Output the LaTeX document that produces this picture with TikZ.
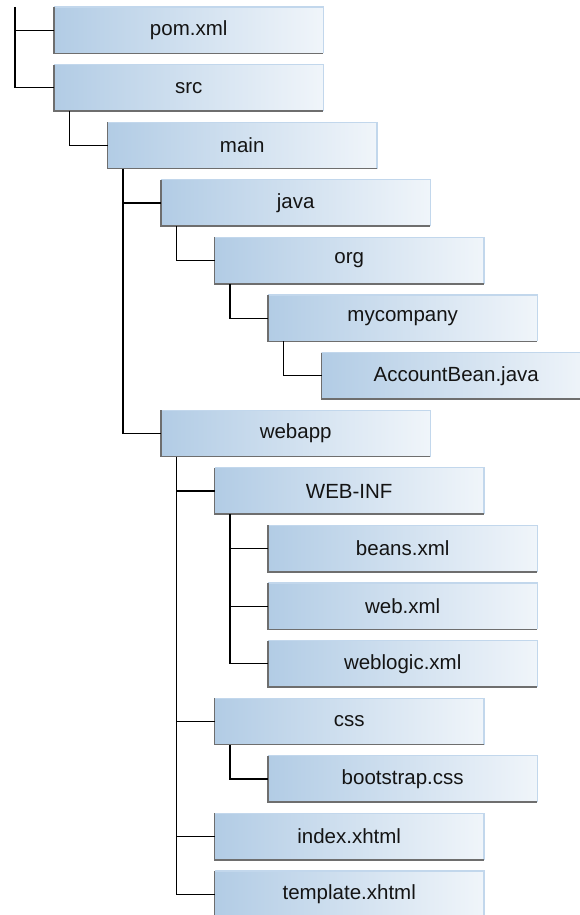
\documentclass[tikz,border=0pt]{standalone}
\usepackage{fontspec}
\setmainfont{Liberation Sans}
\definecolor{boxblue}{HTML}{B2CCE5}
\definecolor{boxwhite}{HTML}{F0F5FA}
\definecolor{edgelight}{HTML}{C2D7EC}
\definecolor{edgedark}{HTML}{6E6E6E}
\definecolor{txt}{HTML}{141414}
\tikzset{
  fbox/.style={rectangle, anchor=north west, minimum width=269pt, minimum height=46pt,
    inner sep=0pt, left color=boxblue, middle color=boxblue, right color=boxwhite,
    font=\fontsize{20.5pt}{24pt}\selectfont, text=txt},
  conn/.style={draw=black, line width=1.3pt},
}
\newcommand\fnode[4]{\node[fbox] (#1) at ({54+53.5*#2},{7+57.6*#3}) {#4};
  \draw[edgelight, line width=1.2pt] (#1.south east) -- (#1.north east) -- (#1.north west);
  \draw[edgedark, line width=1.5pt] (#1.north west) -- (#1.south west) -- (#1.south east);}
\begin{document}
\begin{tikzpicture}[x=1pt,y=-1pt]
\useasboundingbox (0,0) rectangle (579,915);
\fnode{pom}{0}{0}{pom.xml}
\fnode{src}{0}{1}{src}
\fnode{main}{1}{2}{main}
\fnode{java}{2}{3}{java}
\fnode{org}{3}{4}{org}
\fnode{myc}{4}{5}{mycompany}
\fnode{acc}{5}{6}{AccountBean.java}
\fnode{webapp}{2}{7}{webapp}
\fnode{webinf}{3}{8}{WEB-INF}
\fnode{beans}{4}{9}{beans.xml}
\fnode{webxml}{4}{10}{web.xml}
\fnode{weblogic}{4}{11}{weblogic.xml}
\fnode{css}{3}{12}{css}
\fnode{boot}{4}{13}{bootstrap.css}
\fnode{index}{3}{14}{index.xhtml}
\fnode{templ}{3}{15}{template.xhtml}
% connectors
\coordinate (r0) at (15,7);
\draw[conn] (r0) |- (src.west);
\draw[conn] (pom.west) -- (pom.west -| r0);
\coordinate (sv) at ([xshift=15.5pt]src.south west);
\draw[conn] (sv) |- (main.west);
\coordinate (mv) at ([xshift=15.5pt]main.south west);
\draw[conn] (mv) |- (webapp.west);
\draw[conn] (java.west) -- (java.west -| mv);
\coordinate (jv) at ([xshift=15.5pt]java.south west);
\draw[conn] (jv) |- (org.west);
\coordinate (ov) at ([xshift=15.5pt]org.south west);
\draw[conn] (ov) |- (myc.west);
\coordinate (cv) at ([xshift=15.5pt]myc.south west);
\draw[conn] (cv) |- (acc.west);
\coordinate (wv) at ([xshift=15.5pt]webapp.south west);
\draw[conn] (wv) |- (templ.west);
\draw[conn] (webinf.west) -- (webinf.west -| wv);
\draw[conn] (css.west) -- (css.west -| wv);
\draw[conn] (index.west) -- (index.west -| wv);
\coordinate (iv) at ([xshift=15.5pt]webinf.south west);
\draw[conn] (iv) |- (weblogic.west);
\draw[conn] (beans.west) -- (beans.west -| iv);
\draw[conn] (webxml.west) -- (webxml.west -| iv);
\coordinate (csv) at ([xshift=15.5pt]css.south west);
\draw[conn] (csv) |- (boot.west);
\end{tikzpicture}
\end{document}
